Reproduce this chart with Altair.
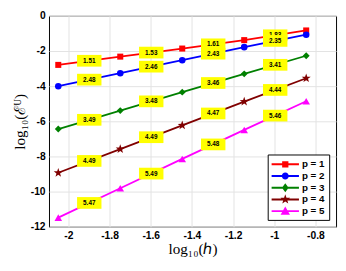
import math
import altair as alt
import pandas as pd

# ---- data ----
log_h = [-2.049, -1.748, -1.447, -1.146, -0.845]
series_names = ["p = 1", "p = 2", "p = 3", "p = 4", "p = 5"]
err_p1 = [-2.79, -2.32, -1.86, -1.38, -0.83]
err_p2 = [-4.00, -3.26, -2.52, -1.78, -1.07]
err_p3 = [-6.44, -5.39, -4.34, -3.30, -2.27]
err_p4 = [-8.93, -7.58, -6.23, -4.88, -3.55]
err_p5 = [-11.48, -9.81, -8.14, -6.49, -4.86]
rates_p1 = ["1.51", "1.53", "1.61", "1.83"]
rates_p2 = ["2.48", "2.46", "2.43", "2.35"]
rates_p3 = ["3.49", "3.48", "3.46", "3.41"]
rates_p4 = ["4.49", "4.49", "4.47", "4.44"]
rates_p5 = ["5.47", "5.49", "5.48", "5.46"]
x_ticks = [-2, -1.8, -1.6, -1.4, -1.2, -1, -0.8]
y_ticks = [0, -2, -4, -6, -8, -10, -12]

errs = [err_p1, err_p2, err_p3, err_p4, err_p5]
rates = [rates_p1, rates_p2, rates_p3, rates_p4, rates_p5]
colors = ["#ff0000", "#0000ff", "#008000", "#800000", "#ff00ff"]

pts_rows, lab_rows = [], []
for name, e, r in zip(series_names, errs, rates):
    for xv, yv in zip(log_h, e):
        pts_rows.append({"series": name, "log_h": xv, "err": yv})
    for k in range(len(log_h) - 1):
        lab_rows.append({"series": name,
                         "log_h": (log_h[k] + log_h[k + 1]) / 2,
                         "err": (e[k] + e[k + 1]) / 2,
                         "rate": r[k]})
pts = pd.DataFrame(pts_rows)
labs = pd.DataFrame(lab_rows)


# ---- marker shapes ----
def star_path(outer, inner, cx=0.0, cy=0.0):
    p = []
    for k in range(10):
        a = math.radians(-90 + 36 * k)
        rr = outer if k % 2 == 0 else inner
        p.append(f"{cx + rr * math.cos(a):.3f},{cy + rr * math.sin(a):.3f}")
    return "M" + "L".join(p) + "Z"


STAR = star_path(1.0, 0.40)
BOX = "M-1,-0.48L1,-0.48L1,0.48L-1,0.48Z"
main_shapes = ["square", "circle", "diamond", STAR, "triangle-up"]
main_sizes = [38, 45, 50, 95, 60]

# legend symbols: line + marker, in units of r = 6 px
R = 6.0


def u(v):
    return f"{v / R:.3f}"


def leg_line():
    return f"M{u(-6)},{u(-1)}L{u(22)},{u(-1)}L{u(22)},{u(1)}L{u(-6)},{u(1)}Z"


cx = 8.0
leg_square = leg_line() + f"M{u(cx-3.2)},{u(-3.2)}L{u(cx+3.2)},{u(-3.2)}L{u(cx+3.2)},{u(3.2)}L{u(cx-3.2)},{u(3.2)}Z"
leg_circle = leg_line() + f"M{u(cx+3.6)},0A{u(3.6)},{u(3.6)} 0 1 1 {u(cx-3.6)},0A{u(3.6)},{u(3.6)} 0 1 1 {u(cx+3.6)},0Z"
leg_diamond = leg_line() + f"M{u(cx)},{u(-4.6)}L{u(cx+3.4)},0L{u(cx)},{u(4.6)}L{u(cx-3.4)},0Z"
leg_star = leg_line() + star_path(5.2 / R, 2.1 / R, cx / R, 0)
leg_tri = leg_line() + f"M{u(cx)},{u(-4.8)}L{u(cx+4.8)},{u(3.6)}L{u(cx-4.8)},{u(3.6)}Z"
legend_shapes = [leg_square, leg_circle, leg_diamond, leg_star, leg_tri]

# ---- encodings ----
X = alt.X("log_h:Q",
          scale=alt.Scale(domain=[-2.094, -0.70], nice=False, zero=False),
          axis=alt.Axis(values=x_ticks, labelExpr="'' + datum.value",
                        title="log₁₀(ℎ)", titlePadding=1))
Y = alt.Y("err:Q",
          scale=alt.Scale(domain=[-12, 0], nice=False, zero=False),
          axis=alt.Axis(values=y_ticks, labelExpr="'' + datum.value",
                        title="log₁₀(ℰᵁ)", titlePadding=3))

layers = []
for name, c, shp, sz in zip(series_names, colors, main_shapes, main_sizes):
    base = alt.Chart(pts).transform_filter(alt.datum.series == name)
    layers.append(base.mark_line(color=c, strokeWidth=1.8).encode(x=X, y=Y))
    layers.append(base.mark_point(shape=shp, filled=True, color=c, size=sz,
                                  opacity=1).encode(x=X, y=Y))

for name in series_names:
    lb = alt.Chart(labs).transform_filter(alt.datum.series == name)
    layers.append(lb.mark_point(shape=BOX, filled=True, color="#ffff00",
                                size=625, opacity=1).encode(x=X, y=Y))
    layers.append(lb.mark_text(font="Liberation Sans", fontWeight="bold",
                               fontSize=6.5, color="black", align="center",
                               baseline="middle").encode(x=X, y=Y, text="rate:N"))

leg = alt.Legend(title=None, orient="bottom-right", offset=7,
                 fillColor="white", strokeColor="black", padding=4,
                 labelFont="Liberation Sans", labelFontWeight="bold",
                 labelFontSize=10, labelColor="black", labelOffset=19,
                 symbolSize=R * R * 4, symbolStrokeWidth=0, symbolOpacity=1,
                 rowPadding=1)
layers.append(
    alt.Chart(pts).mark_point(filled=True, opacity=0, size=1).encode(
        x=X, y=Y,
        color=alt.Color("series:N", scale=alt.Scale(domain=series_names, range=colors), legend=leg),
        shape=alt.Shape("series:N", scale=alt.Scale(domain=series_names, range=legend_shapes), legend=leg),
    )
)

chart = alt.layer(*layers).properties(
    width=294, height=216,
    autosize=alt.AutoSizeParams(type="none"),
    padding={"left": 42, "top": 5, "right": 2, "bottom": 31},
    background="white",
).configure_view(
    stroke="black", strokeWidth=1
).configure_axis(
    grid=True, gridColor="#e2e2e2", gridWidth=1, domain=False, ticks=False,
    labelFont="Liberation Sans", labelFontWeight="bold", labelFontSize=10.5,
    labelColor="black", labelPadding=4,
    titleFont="Liberation Serif", titleFontSize=15.5, titleFontWeight="normal",
    titleColor="black",
)

chart.save("out.html", embed_options={"renderer": "svg", "actions": False})
